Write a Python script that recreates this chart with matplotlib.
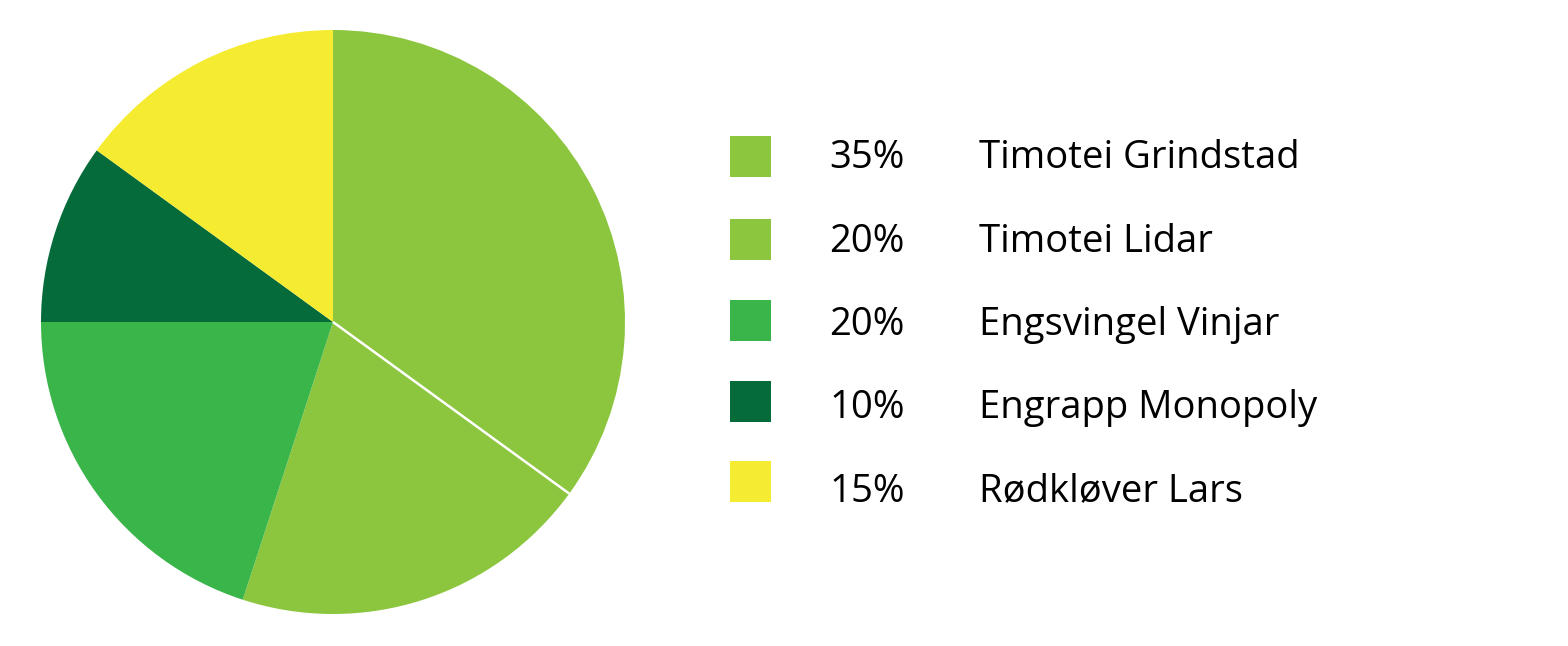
import matplotlib.pyplot as plt
import numpy as np
from matplotlib.patches import Rectangle

plt.rcParams['font.family'] = ['Open Sans', 'DejaVu Sans']

# data
sorter = ["Timotei Grindstad", "Timotei Lidar", "Engsvingel Vinjar", "Engrapp Monopoly", "Rødkløver Lars"]
andel = [35, 20, 20, 10, 15]
farger = ["#8CC63F", "#8CC63F", "#39B54A", "#056B3A", "#F5EC31"]

W, H = 1568, 646
fig = plt.figure(figsize=(W / 100, H / 100), dpi=100)

# pie (center 333,322 px, radius 292 px)
cx, cy, r = 333, 322, 292
ax = fig.add_axes([(cx - r) / W, (H - cy - r) / H, 2 * r / W, 2 * r / H])
ax.pie(andel, colors=farger, startangle=90, counterclock=False, radius=1,
       wedgeprops=dict(linewidth=0, antialiased=True))
ax.set_xlim(-1, 1)
ax.set_ylim(-1, 1)
ax.axis('off')

# white seam between the two same-colour slices
vinkel = np.deg2rad(90 - 360 * andel[0] / sum(andel))
ax.plot([0, np.cos(vinkel)], [0, np.sin(vinkel)], color='white', lw=1.8, solid_capstyle='butt')

# legend drawn in pixel space
lg = fig.add_axes([0, 0, 1, 1])
lg.set_xlim(0, W)
lg.set_ylim(H, 0)
lg.axis('off')
ruter = [156.5, 239.5, 320, 401, 481]
tekst_y = [158, 242, 325, 408, 491.5]
for ry, ty, navn, p, f in zip(ruter, tekst_y, sorter, andel, farger):
    lg.add_patch(Rectangle((730.5, ry - 20.5), 41, 41, color=f, lw=0))
    lg.text(829, ty, f"{p}%", fontsize=27.5, va='center', ha='left', color='black')
    lg.text(979, ty, navn, fontsize=27.5, va='center', ha='left', color='black')

fig.savefig("out.png", dpi=100, facecolor='white')
